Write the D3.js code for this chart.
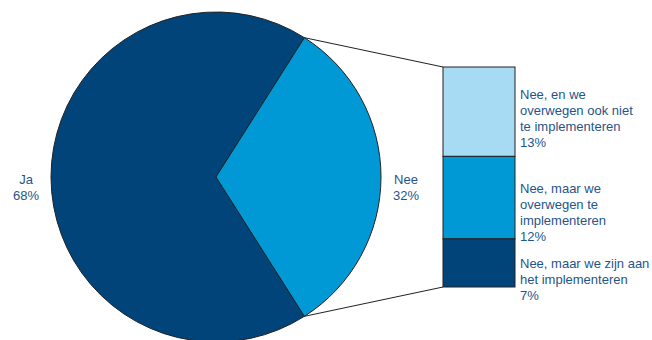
<!DOCTYPE html>
<html>
<head>
<meta charset="utf-8">
<script src="https://cdn.jsdelivr.net/npm/d3@7"></script>
<style>
  html, body { margin: 0; padding: 0; background: #fff; }
  svg { display: block; font-family: "Liberation Sans", Arial, sans-serif; }
</style>
</head>
<body>
<svg id="chart" width="652" height="340"></svg>
<script>
// Main answer split
const pieLabels = ["Ja", "Nee"];
const pieValues = [68, 32];

// Breakdown of "Nee", top to bottom
const subLabels = [
  ["Nee, en we", "overwegen ook niet", "te implementeren"],
  ["Nee, maar we", "overwegen te", "implementeren"],
  ["Nee, maar we zijn aan", "het implementeren"]
];
const subValues = [13, 12, 7];

const colors = { ja: "#00447a", nee: "#0099d5", light: "#a6dbf3" };
const subColors = [colors.light, colors.nee, colors.ja];
const textColor = "#1f5589";

const svg = d3.select("#chart");
const cx = 216, cy = 177, r = 165;

// Pie: "Nee" slice centred on the right-hand side
const neeAngle = pieValues[1] / d3.sum(pieValues) * 2 * Math.PI;
const pie = d3.pie().sort(null)
  .startAngle(Math.PI / 2 - neeAngle / 2 - (2 * Math.PI - neeAngle))
  .endAngle(Math.PI / 2 + neeAngle / 2);
const arcs = pie(pieValues);
const arc = d3.arc().innerRadius(0).outerRadius(r);

const g = svg.append("g").attr("transform", `translate(${cx},${cy})`);
g.selectAll("path")
  .data(arcs)
  .join("path")
  .attr("d", arc)
  .attr("fill", (d, i) => i === 0 ? colors.ja : colors.nee)
  .attr("stroke", "#222")
  .attr("stroke-width", 1);

// Stacked breakdown bar
const barX = 443, barW = 72, barTop = 67, barBottom = 287;
const y = d3.scaleLinear()
  .domain([0, d3.sum(subValues)])
  .range([barTop, barBottom]);
const cum = d3.cumsum([0, ...subValues]);

svg.selectAll("rect.seg")
  .data(subValues)
  .join("rect")
  .attr("class", "seg")
  .attr("x", barX)
  .attr("width", barW)
  .attr("y", (d, i) => y(cum[i]))
  .attr("height", d => y(d) - y(0))
  .attr("fill", (d, i) => subColors[i])
  .attr("stroke", "#222")
  .attr("stroke-width", 1);

// Connector lines from the edges of the "Nee" slice to the bar
const nee = arcs[1];
const edge = a => [cx + r * Math.sin(a), cy - r * Math.cos(a)];
const pTop = edge(nee.startAngle), pBot = edge(nee.endAngle);
svg.append("line")
  .attr("x1", pTop[0]).attr("y1", pTop[1])
  .attr("x2", barX).attr("y2", y(0))
  .attr("stroke", "#222").attr("stroke-width", 1);
svg.append("line")
  .attr("x1", pBot[0]).attr("y1", pBot[1])
  .attr("x2", barX).attr("y2", y(d3.sum(subValues)))
  .attr("stroke", "#222").attr("stroke-width", 1);

// Pie labels
const pieLabelPos = [[26, 184], [406, 184]];
pieLabels.forEach((lab, i) => {
  const t = svg.append("text")
    .attr("text-anchor", "middle")
    .attr("fill", textColor)
    .attr("font-size", 13);
  t.append("tspan").attr("x", pieLabelPos[i][0]).attr("y", pieLabelPos[i][1]).text(lab);
  t.append("tspan").attr("x", pieLabelPos[i][0]).attr("dy", 16).text(pieValues[i] + "%");
});

// Breakdown labels
const subLabelTop = [99, 193, 268];
subLabels.forEach((lines, i) => {
  const t = svg.append("text")
    .attr("fill", textColor)
    .attr("font-size", 13);
  [...lines, subValues[i] + "%"].forEach((line, j) => {
    t.append("tspan")
      .attr("x", 520)
      .attr("y", subLabelTop[i] + j * 16)
      .text(line);
  });
});
</script>
</body>
</html>
